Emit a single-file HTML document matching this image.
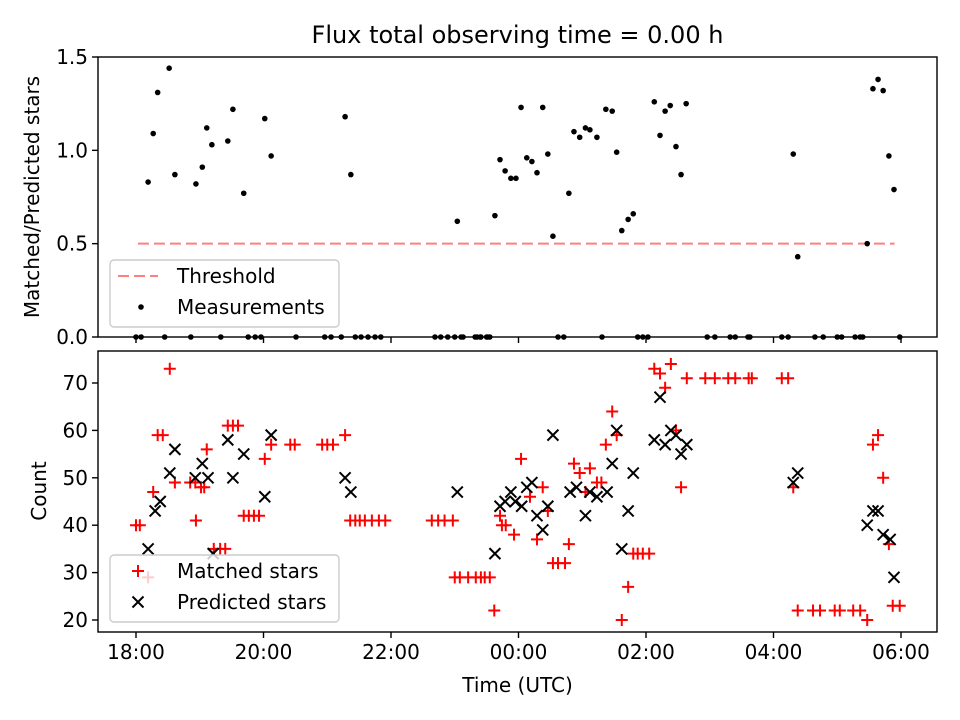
<!DOCTYPE html>
<html><head><meta charset="utf-8"><style>
body{margin:0;background:#fff}
svg{display:block;font-family:"DejaVu Sans","Liberation Sans",sans-serif}
</style></head><body>
<svg id="c" width="960" height="720" viewBox="0 0 960 720"></svg>
<script>
const ratioT=[0.19,0.27,0.34,0.52,0.61,0.94,1.04,1.11,1.19,1.44,1.52,1.69,2.02,2.12,3.28,3.37,5.04,5.63,5.71,5.79,5.88,5.96,6.04,6.13,6.21,6.29,6.38,6.46,6.54,6.79,6.87,6.96,7.05,7.12,7.23,7.37,7.47,7.54,7.62,7.72,7.8,8.13,8.22,8.3,8.38,8.47,8.55,8.63,10.31,10.38,11.47,11.56,11.64,11.72,11.81,11.89];
const ratioV=[0.83,1.09,1.31,1.44,0.87,0.82,0.91,1.12,1.03,1.05,1.22,0.77,1.17,0.97,1.18,0.87,0.62,0.65,0.95,0.89,0.85,0.85,1.23,0.96,0.94,0.88,1.23,0.98,0.54,0.77,1.10,1.07,1.12,1.11,1.07,1.22,1.21,0.99,0.57,0.63,0.66,1.26,1.08,1.21,1.24,1.02,0.87,1.25,0.98,0.43,0.50,1.33,1.38,1.32,0.97,0.79];
const zeroT=[0,0.08,0.45,0.86,1.33,1.76,1.87,1.96,2.51,2.96,3.06,3.22,3.44,3.53,3.64,3.75,3.84,4.69,4.78,4.89,5.0,5.1,5.13,5.32,5.35,5.4,5.41,5.5,5.52,5.55,6.62,6.71,7.31,7.87,7.95,8.03,8.96,9.08,9.32,9.4,9.6,9.63,10.13,10.23,10.65,10.78,11.0,11.07,11.28,11.36,11.4,11.98];
const threshold=[0.03,11.9,0.5];
const matchedT=[0,0.06,0.19,0.27,0.34,0.42,0.53,0.61,0.85,0.93,0.94,1.02,1.07,1.11,1.22,1.32,1.4,1.44,1.52,1.6,1.69,1.77,1.85,1.93,2.02,2.12,2.42,2.49,2.92,3.0,3.09,3.28,3.36,3.44,3.51,3.59,3.7,3.81,3.91,4.64,4.74,4.84,4.97,5.0,5.08,5.21,5.33,5.41,5.47,5.55,5.62,5.71,5.74,5.8,5.93,6.04,6.18,6.29,6.38,6.46,6.54,6.62,6.73,6.79,6.87,6.96,7.05,7.12,7.23,7.3,7.37,7.47,7.54,7.62,7.72,7.8,7.87,7.95,8.05,8.13,8.22,8.3,8.39,8.47,8.55,8.64,8.93,9.08,9.29,9.4,9.61,9.66,10.13,10.23,10.31,10.38,10.62,10.73,10.96,11.04,11.25,11.36,11.47,11.56,11.64,11.72,11.81,11.87,11.98];
const matchedV=[40,40,29,47,59,59,73,49,49,49,41,48,48,56,35,35,35,61,61,61,42,42,42,42,54,57,57,57,57,57,57,59,41,41,41,41,41,41,41,41,41,41,41,29,29,29,29,29,29,29,22,42,40,40,38,54,46,37,48,43,32,32,32,36,53,51,47,52,49,49,57,64,59,20,27,34,34,34,34,73,72,69,74,60,48,71,71,71,71,71,71,71,71,71,48,22,22,22,22,22,22,22,20,57,59,50,36,23,23];
const predT=[0.19,0.3,0.38,0.53,0.61,0.93,1.04,1.13,1.21,1.44,1.52,1.69,2.02,2.12,3.28,3.37,5.04,5.63,5.71,5.79,5.88,5.95,6.05,6.13,6.21,6.29,6.38,6.46,6.54,6.81,6.91,7.05,7.12,7.23,7.39,7.47,7.54,7.62,7.72,7.8,8.13,8.22,8.3,8.39,8.47,8.55,8.64,10.31,10.38,11.47,11.56,11.64,11.72,11.83,11.89];
const predV=[35,43,45,51,56,50,53,50,34,58,50,55,46,59,50,47,47,34,44,45,47,45,44,48,49,42,39,44,59,47,48,42,47,46,47,53,60,35,43,51,58,67,57,60,59,55,57,49,51,40,43,43,38,37,29];
const xTicks=[0,2,4,6,8,10,12];
const xTickLabels=["18:00","20:00","22:00","00:00","02:00","04:00","06:00"];
const topTicks=[0,0.5,1.0,1.5];
const botTicks=[20,30,40,50,60,70];

const NS="http://www.w3.org/2000/svg";
const svg=document.getElementById('c');
function mk(tag,attrs,parent){const e=document.createElementNS(NS,tag);for(const k in attrs)e.setAttribute(k,attrs[k]);(parent||svg).appendChild(e);return e;}
const L=98,R=937,T1=57,B1=337,T2=351,B2=632;
const X=h=>136+h*63.75;
const Y1=v=>B1-v*186.67;
const Y2=v=>620-(v-20)*4.74;
const FS=20;

let t=mk('text',{x:517.5,y:43,'text-anchor':'middle','font-size':24});
t.textContent='Flux total observing time = 0.00 h';



const g1=mk('g',{});


const thr=mk('line',{x1:X(threshold[0]),x2:X(threshold[1]),y1:Y1(threshold[2]),y2:Y1(threshold[2]),stroke:'#ff7f7f','stroke-width':2,'stroke-dasharray':'11,5'},g1);


const allT=ratioT.concat(zeroT), allV=ratioV.concat(zeroT.map(()=>0));
allT.forEach((h,i)=>{const c=mk('circle',{cx:X(h),cy:Y1(allV[i]),r:2.8,fill:'#000'},g1);

});

const g2=mk('g',{});


matchedT.forEach((h,i)=>{const x=X(h),y=Y2(matchedV[i]);
const p=mk('path',{d:`M${x-6},${y}H${x+6}M${x},${y-6}V${y+6}`,stroke:'#f00','stroke-width':2},g2);

});
predT.forEach((h,i)=>{const x=X(h),y=Y2(predV[i]);
const p=mk('path',{d:`M${x-5.5},${y-5.5}L${x+5.5},${y+5.5}M${x-5.5},${y+5.5}L${x+5.5},${y-5.5}`,stroke:'#000','stroke-width':2},g2);

});

[[T1,B1,'ratio-axes-frame'],[T2,B2,'count-axes-frame']].forEach(a=>{const r=mk('rect',{x:L,y:a[0],width:R-L,height:a[1]-a[0],fill:'none',stroke:'#000','stroke-width':1.4});

});

xTicks.forEach((h,i)=>{const x=X(h);
mk('line',{x1:x,x2:x,y1:B1,y2:B1+6,stroke:'#000','stroke-width':1.4});
mk('line',{x1:x,x2:x,y1:B2,y2:B2+6,stroke:'#000','stroke-width':1.4});
const tl=mk('text',{x:x,y:B2+27,'text-anchor':'middle','font-size':FS});
tl.textContent=xTickLabels[i];

});
topTicks.forEach(v=>{const y=Y1(v);
mk('line',{x1:L-6,x2:L,y1:y,y2:y,stroke:'#000','stroke-width':1.4});
const tl=mk('text',{x:L-10,y:y+7,'text-anchor':'end','font-size':FS});
tl.textContent=v.toFixed(1);

});
botTicks.forEach(v=>{const y=Y2(v);
mk('line',{x1:L-6,x2:L,y1:y,y2:y,stroke:'#000','stroke-width':1.4});
const tl=mk('text',{x:L-10,y:y+7,'text-anchor':'end','font-size':FS});
tl.textContent=v;

});

let a=mk('text',{x:517.5,y:692,'text-anchor':'middle','font-size':FS});a.textContent='Time (UTC)';


a=mk('text',{x:0,y:0,'text-anchor':'middle','font-size':FS,transform:'translate(39,197) rotate(-90)'});a.textContent='Matched/Predicted stars';


a=mk('text',{x:0,y:0,'text-anchor':'middle','font-size':FS,transform:'translate(46,491) rotate(-90)'});a.textContent='Count';



function legend(y0,items,name){const g=mk('g',{});


mk('rect',{x:110,y:y0,width:229,height:67,rx:4,fill:'#fff','fill-opacity':0.8,stroke:'#ccc','stroke-width':1.4},g);
items.forEach((it,i)=>{const cy=y0+16+i*31;
it.sym(g,138,cy);
const tx=mk('text',{x:177,y:cy+7,'font-size':FS},g);tx.textContent=it.label;

});}
legend(260,[{label:'Threshold',sym:(g,x,y)=>mk('line',{x1:x-20,x2:x+20,y1:y,y2:y,stroke:'#ff7f7f','stroke-width':2,'stroke-dasharray':'11,5'},g)},
{label:'Measurements',sym:(g,x,y)=>mk('circle',{cx:x+3,cy:y,r:2.8,fill:'#000'},g)}],'legend-ratio');
legend(555,[{label:'Matched stars',sym:(g,x,y)=>mk('path',{d:`M${x-6},${y}H${x+6}M${x},${y-6}V${y+6}`,stroke:'#f00','stroke-width':2},g)},
{label:'Predicted stars',sym:(g,x,y)=>mk('path',{d:`M${x-5.5},${y-5.5}L${x+5.5},${y+5.5}M${x-5.5},${y+5.5}L${x+5.5},${y-5.5}`,stroke:'#000','stroke-width':2},g)}],'legend-count');
</script>
</body></html>
